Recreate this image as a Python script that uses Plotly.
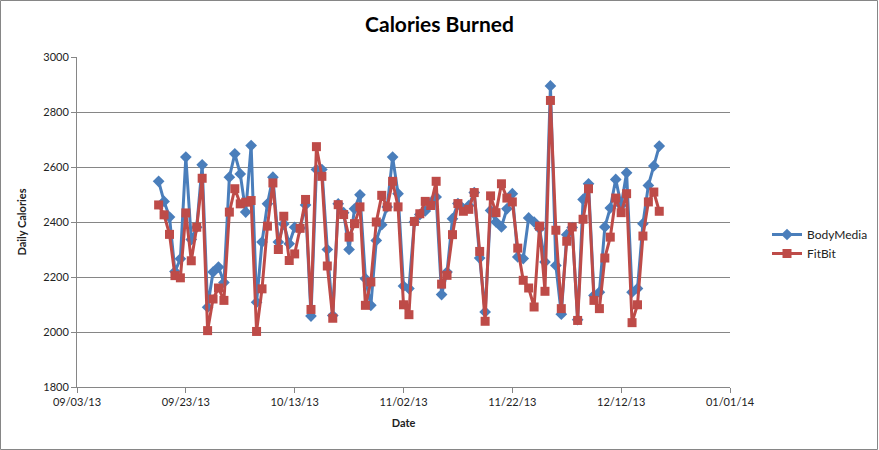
import pandas as pd
import plotly.graph_objects as go

start_date = "2013-09-18"
body_media = [2548, 2475, 2418, 2220, 2266, 2636, 2336, 2381, 2608, 2090,
              2218, 2236, 2180, 2563, 2648, 2575, 2436, 2678, 2108, 2327,
              2466, 2563, 2327, 2393, 2321, 2381, 2378, 2462, 2058, 2591,
              2591, 2300, 2060, 2466, 2434, 2300, 2448, 2499, 2194, 2097,
              2333, 2390, 2455, 2636, 2503, 2167, 2158, 2400, 2427, 2440,
              2470, 2491, 2136, 2218, 2412, 2467, 2448, 2460, 2507, 2269,
              2073, 2442, 2400, 2382, 2448, 2503, 2273, 2267, 2415, 2400,
              2376, 2255, 2895, 2242, 2065, 2354, 2380, 2045, 2482, 2539,
              2133, 2145, 2382, 2451, 2555, 2460, 2579, 2145, 2158, 2394,
              2533, 2604, 2676]
fitbit = [2462, 2426, 2355, 2205, 2197, 2433, 2259, 2381, 2559, 2005,
          2120, 2160, 2115, 2436, 2521, 2466, 2472, 2478, 2002, 2157,
          2385, 2542, 2300, 2421, 2260, 2284, 2377, 2482, 2082, 2674,
          2566, 2240, 2050, 2463, 2427, 2345, 2394, 2455, 2097, 2182,
          2400, 2497, 2455, 2548, 2455, 2099, 2063, 2402, 2430, 2475,
          2460, 2548, 2174, 2206, 2354, 2467, 2439, 2446, 2507, 2293,
          2039, 2495, 2434, 2539, 2487, 2473, 2305, 2188, 2160, 2091,
          2385, 2148, 2842, 2370, 2085, 2330, 2382, 2042, 2410, 2521,
          2115, 2085, 2269, 2345, 2487, 2434, 2503, 2034, 2099, 2349,
          2473, 2509, 2439]
dates = pd.date_range(start_date, periods=len(body_media), freq="D")

x_tick_vals = ["2013-09-03", "2013-09-23", "2013-10-13", "2013-11-02",
               "2013-11-22", "2013-12-12", "2014-01-01"]
x_tick_text = ["09/03/13", "09/23/13", "10/13/13", "11/02/13",
               "11/22/13", "12/12/13", "01/01/14"]
y_ticks = [1800, 2000, 2200, 2400, 2600, 2800, 3000]

FONT = "Lato, 'Open Sans', sans-serif"
GRID = "#868686"

fig = go.Figure()
fig.add_trace(go.Scatter(
    x=dates, y=body_media, name="BodyMedia", mode="lines+markers",
    line=dict(color="#4A7EBB", width=3),
    marker=dict(symbol="diamond", size=9, color="#4A7EBB"),
))
fig.add_trace(go.Scatter(
    x=dates, y=fitbit, name="FitBit", mode="lines+markers",
    line=dict(color="#BE4B48", width=3),
    marker=dict(symbol="square", size=9, color="#BE4B48"),
))

L, R, T, B = 77, 149, 57, 63
W, H = 879, 450
pw, ph = W - L - R, H - T - B

fig.update_layout(
    width=W, height=H,
    margin=dict(l=L, r=R, t=T, b=B, autoexpand=False),
    paper_bgcolor="white", plot_bgcolor="white",
    font=dict(family=FONT, size=11, color="#222222"),
    title=dict(text="<b>Calories Burned</b>", x=0.5, xref="container",
               y=1 - 25 / H, yref="container", yanchor="middle",
               font=dict(family=FONT, size=21, color="#000000")),
    legend=dict(x=(767 - L) / pw, y=(H - B - 244) / ph, xanchor="left",
                yanchor="middle", font=dict(family=FONT, size=12, color="#222222"),
                bgcolor="rgba(0,0,0,0)", tracegroupgap=8),
    showlegend=True,
    xaxis=dict(
        type="date", range=["2013-09-03", "2014-01-01"],
        tickvals=x_tick_vals, ticktext=x_tick_text,
        showgrid=False, zeroline=False,
        showline=True, linecolor=GRID, linewidth=1,
        ticks="outside", ticklen=5, tickcolor=GRID,
        tickfont=dict(size=11),
        title=dict(text="<b>Date</b>", font=dict(size=11), standoff=12),
    ),
    yaxis=dict(
        range=[1800, 3000], tickvals=y_ticks,
        showgrid=True, gridcolor=GRID, gridwidth=1, zeroline=False,
        showline=True, linecolor=GRID, linewidth=1,
        ticks="outside", ticklen=5, tickcolor=GRID,
        tickfont=dict(size=11),
        title=dict(text="<b>Daily Calories</b>", font=dict(size=11), standoff=14),
    ),
    shapes=[dict(
        type="rect", xref="paper", yref="paper",
        x0=(0.5 - L) / pw, x1=(W - 1.5 - L) / pw,
        y0=(H - B - (H - 0.5)) / ph, y1=(H - B - 0.5) / ph,
        line=dict(color="#868686", width=1), fillcolor="rgba(0,0,0,0)",
        layer="below",
    )],
)

fig.write_html("out.html",
               config={"displayModeBar": False},
               post_script="document.body.style.margin='0';document.body.style.overflow='hidden';")
